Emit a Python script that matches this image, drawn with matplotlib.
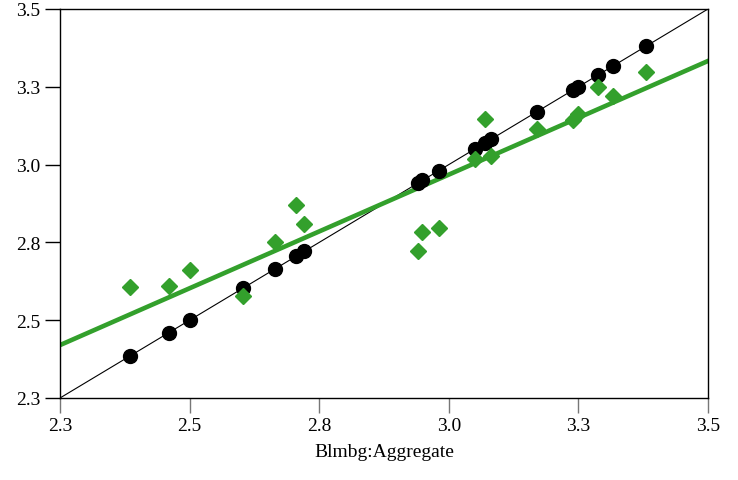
import numpy as np
import matplotlib
matplotlib.use("Agg")
import matplotlib.pyplot as plt

plt.rcParams['font.family'] = ['Liberation Serif', 'DejaVu Serif']

# Data
x_vals = [2.385, 2.460, 2.500, 2.603, 2.665, 2.705, 2.721, 2.941, 2.949, 2.981,
          3.050, 3.070, 3.081, 3.170, 3.240, 3.249, 3.288, 3.317, 3.380]
green_y = [2.607, 2.610, 2.661, 2.578, 2.751, 2.870, 2.809, 2.722, 2.783, 2.796,
           3.018, 3.146, 3.028, 3.114, 3.143, 3.163, 3.249, 3.220, 3.297]
# fitted line
fit_slope = 0.7304
fit_intercept = 0.7766
tick_vals = [2.25, 2.5, 2.75, 3.0, 3.25, 3.5]
tick_labels = ["2.3", "2.5", "2.8", "3.0", "3.3", "3.5"]
xlabel = "Blmbg:Aggregate"

green = "#33a02c"

fig = plt.figure(figsize=(7.38, 4.81), dpi=100)
ax = fig.add_axes([60/738, 1-399/481, 648/738, 389/481])

lims = [2.25, 3.5]
ax.plot(lims, lims, color="black", lw=0.8, zorder=1)

fx = np.array(lims)
ax.plot(fx, fit_intercept + fit_slope*fx, color=green, lw=3.3, zorder=2)

ax.plot(x_vals, x_vals, 'o', color="black", ms=10, zorder=3, linestyle='none')
ax.plot(x_vals, green_y, 'D', color=green, ms=8, zorder=4, linestyle='none')

ax.set_xlim(lims)
ax.set_ylim(lims)
ax.set_xticks(tick_vals)
ax.set_xticklabels(tick_labels)
ax.set_yticks(tick_vals)
ax.set_yticklabels(tick_labels)
ax.tick_params(axis='both', labelsize=14, length=11, width=1, pad=3)
ax.tick_params(axis='x', color='#777777')
ax.set_xlabel(xlabel, fontsize=14, labelpad=6)
for s in ax.spines.values():
    s.set_linewidth(1)

fig.savefig("out.png", dpi=100)
